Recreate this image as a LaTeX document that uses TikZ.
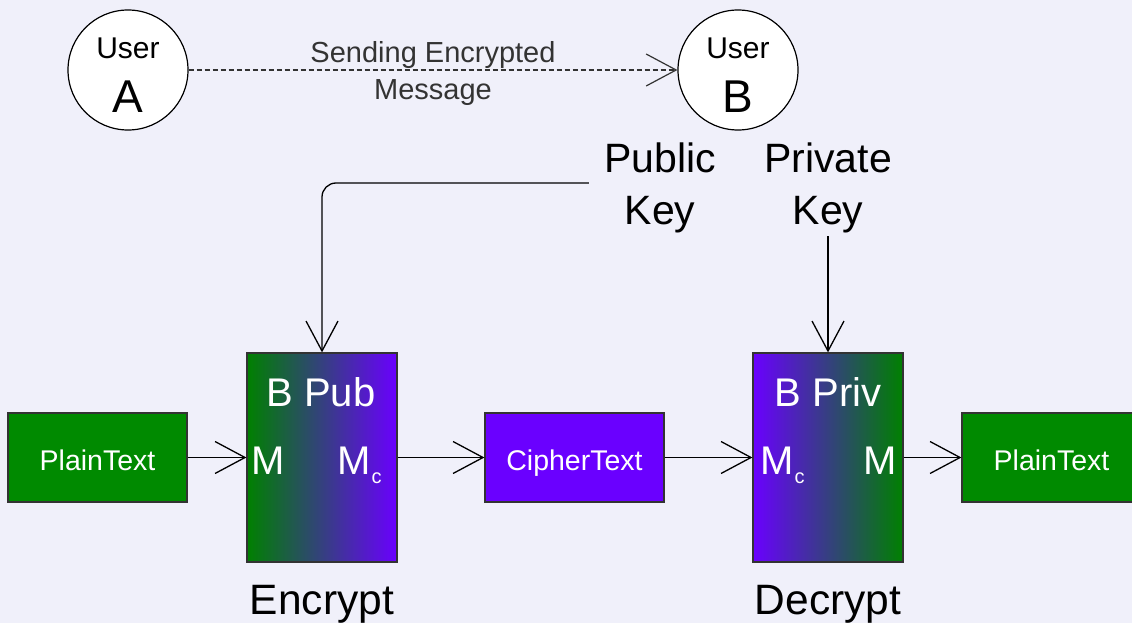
\documentclass[tikz,border=0pt]{standalone}
\usepackage{fontspec}
\setmainfont{Liberation Sans}
\usetikzlibrary{arrows.meta,positioning}
\definecolor{bgpaper}{HTML}{F0F0FA}
\definecolor{plaingreen}{HTML}{008A00}
\definecolor{gradgreen}{HTML}{008000}
\definecolor{ciphviolet}{HTML}{6A00FF}

\begin{document}
\begin{tikzpicture}[x=1pt,y=-1pt,>={Straight Barb[length=30pt,width=32pt]},
  user/.style={circle,draw,line width=1.2pt,fill=white,minimum size=120pt,inner sep=0pt},
  msgbox/.style={draw=black!80,line width=1.2pt,minimum width=179pt,minimum height=89pt,text height=25pt,text depth=0pt,text=white,font=\fontsize{28.5}{28.5}\selectfont},
  cryptbox/.style={draw=black!80,line width=1.2pt,minimum width=150pt,minimum height=209pt},
  inbox/.style={text=white,inner sep=0pt,anchor=base,font=\fontsize{40}{40}\selectfont},
  keylabel/.style={align=center,font=\fontsize{41}{52}\selectfont,inner xsep=15pt,inner ysep=3pt},
  caption/.style={anchor=base,font=\fontsize{42.5}{42.5}\selectfont},
  link/.style={->,line width=1.3pt}]
  \useasboundingbox (0,0) rectangle (1132,623);
  \fill[bgpaper] (0,0) rectangle (1132,623);
  \clip (0,0) rectangle (1132,623);

  \node[user] (usera) at (128,70) {};
  \node[user] (userb) at (738,70) {};
  \node[anchor=base,font=\fontsize{30}{30}\selectfont] (usera-name) at (128,59) {User};
  \node[anchor=base,font=\fontsize{46}{46}\selectfont] (usera-id) at (128,113) {A};
  \node[anchor=base,font=\fontsize{30}{30}\selectfont] (userb-name) at (738,59) {User};
  \node[anchor=base,font=\fontsize{46}{46}\selectfont] (userb-id) at (738,113) {B};
  \draw[->,line width=1.2pt,draw=black!80,dash pattern=on 5pt off 3pt] (usera) -- node[align=center,yshift=-3.7pt,text=black!80,font=\fontsize{29}{36.5}\selectfont] (msg) {Sending Encrypted\\Message} (userb);

  \node[keylabel] (pubkey) at (660,188) {Public\\Key};
  \node[keylabel] (privkey) at (828,188) {Private\\Key};

  \node[msgbox,fill=plaingreen] (ptin) at (97.5,457.5) {PlainText};
  \node[cryptbox,left color=gradgreen,right color=ciphviolet] (enc) at (322,457.5) {};
  \node[msgbox,fill=ciphviolet] (ciph) at (574.5,457.5) {CipherText};
  \node[cryptbox,left color=ciphviolet,right color=gradgreen] (dec) at (828,457.5) {};
  \node[msgbox,fill=plaingreen] (ptout) at (1051.5,457.5) {PlainText};

  \node[inbox] (enc-key) at (321,406) {B Pub};
  \node[inbox] (enc-in) at (268,474) {M};
  \node[inbox,anchor=base west] (enc-out) at (337,474) {M\hspace{1pt}\raisebox{-9pt}{\fontsize{20}{20}\selectfont c}};
  \node[inbox] (dec-key) at (828,406) {B Priv};
  \node[inbox,anchor=base west] (dec-in) at (760,474) {M\hspace{1pt}\raisebox{-9pt}{\fontsize{20}{20}\selectfont c}};
  \node[inbox] (dec-out) at (880,474) {M};

  \node[caption] (enc-cap) at (322,614) {Encrypt};
  \node[caption] (dec-cap) at (828,614) {Decrypt};

  \draw[link,rounded corners=14pt] ([yshift=5pt]pubkey.west) -| (enc.north);
  \draw[link] (privkey.south) -- (dec.north);
  \foreach \a/\b in {ptin/enc,enc/ciph,ciph/dec,dec/ptout}{
    \draw[link] (\a) -- (\b);
  }
\end{tikzpicture}
\end{document}
